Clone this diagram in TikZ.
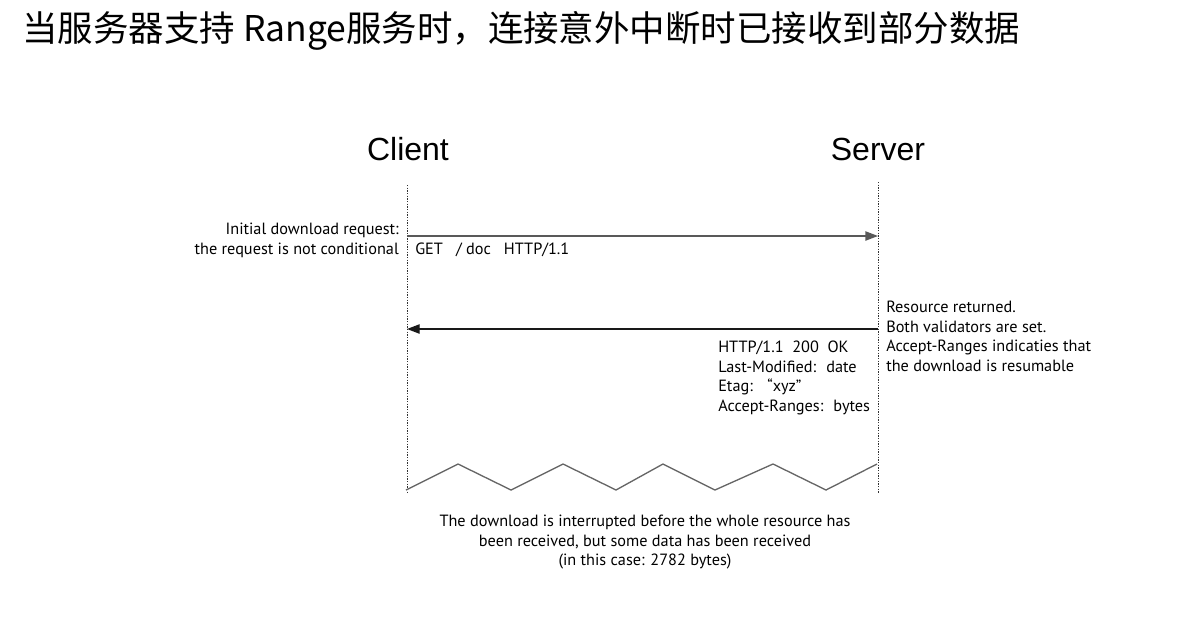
\documentclass[tikz,border=0pt]{standalone}
\usepackage{fontspec}
\setmainfont{PT Sans}
\newfontfamily\cjkfont{Noto Sans CJK SC}
\newfontfamily\headfont{Liberation Sans}
\usetikzlibrary{arrows.meta}
\begin{document}
\begin{tikzpicture}[x=0.75pt,y=-0.75pt,
  lifeline/.style={line width=0.6pt,dash pattern=on 1pt off 1pt,black!80},
  msg/.style={line width=1pt,-{Triangle[length=9.5pt,width=7pt]}},
  note/.style={inner sep=0pt,font=\fontsize{12.2}{14.6}\selectfont,align=left},
  head/.style={inner sep=0pt,font=\headfont\fontsize{24}{28}\selectfont}]
\useasboundingbox (0,0) rectangle (1190,622);
\node[anchor=west,inner sep=0pt,font=\cjkfont\fontsize{26.6}{32}\selectfont] (title) at (22,31) {当服务器支持 Range服务时，连接意外中断时已接收到部分数据};
\node[head] (client) at (408,149) {Client};
\node[head] (server) at (878,149) {Server};
\coordinate (ctop) at (407,185);
\coordinate (cbot) at (407,493);
\coordinate (stop) at (878,182);
\coordinate (sbot) at (878,493);
\draw[lifeline] (ctop) -- (cbot);
\draw[lifeline] (stop) -- (sbot);
\coordinate (a1s) at (407,236);
\coordinate (a1e) at (878,236);
\draw[msg,black!65] (a1s) -- (a1e);
\coordinate (a2s) at (878,329);
\coordinate (a2e) at (407,329);
\draw[msg,black!90] (a2s) -- (a2e);
\node[note,anchor=north east,align=right] (initial) at (399,223) {Initial download request:\\the request is not conditional};
\node[note,anchor=north west] (get) at (415,242.5) {GET~~ /~doc~~ HTTP/1.1};
\node[note,anchor=north west] (resp) at (718,341) {HTTP/1.1~ 200~ OK\\Last-Modified:~ date\\Etag:~~ “xyz”\\Accept-Ranges:~ bytes};
\node[note,anchor=north west] (returned) at (886,301) {Resource returned.\\Both validators are set.\\Accept-Ranges indicaties that\\the download is resumable};
\draw[black!60,line width=1pt] (406,490) -- (458,464) -- (511,490) -- (563,464) -- (616,490) -- (663,464) -- (715,490) -- (773,464) -- (826,490) -- (877,464);
\node[note,anchor=north,align=center] (interrupt) at (645,515) {The download is interrupted before the whole resource has\\been received, but some data has been received\\(in this case: 2782 bytes)};
\end{tikzpicture}
\end{document}
